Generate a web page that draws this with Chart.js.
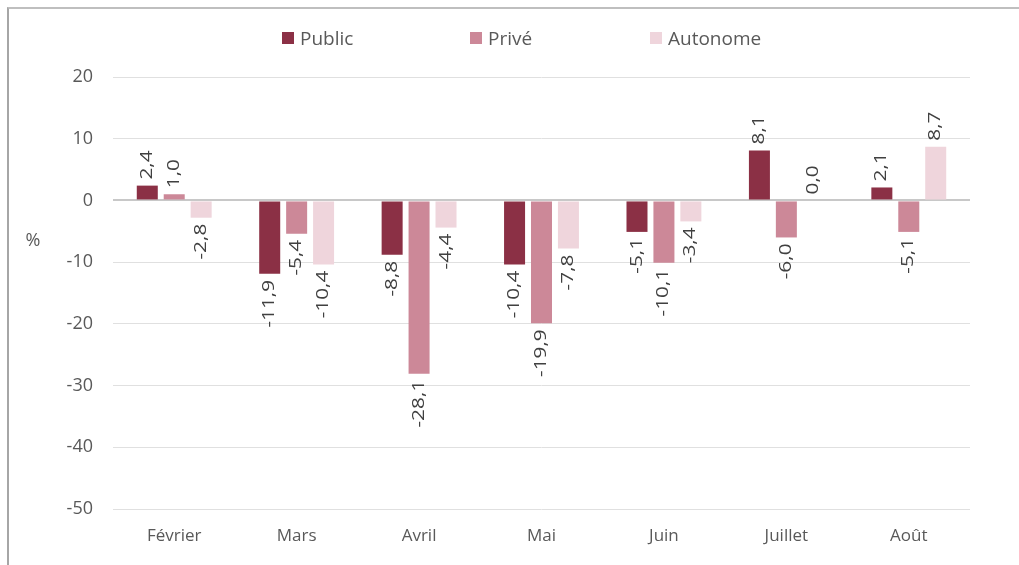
<!DOCTYPE html>
<html lang="fr">
<head>
<meta charset="utf-8">
<script src="https://cdn.jsdelivr.net/npm/chart.js@4"></script>
<style>
  html, body { margin: 0; padding: 0; background: #fff; overflow: hidden; }
  #wrap { position: relative; width: 1019px; height: 565px; overflow: hidden; }
  #frame { position: absolute; left: 7px; top: 7px; width: 1100px; height: 700px;
           border-left: 2px solid #a6a6a6; border-top: 2px solid #bfbfbf; }
  #legend { position: absolute; top: 25px; left: 282px;
            font-family: "Open Sans", sans-serif; font-size: 19px; color: #595959; }
  #legend .item { display: flex; align-items: center; position: absolute; white-space: nowrap; }
  #legend .box { width: 12px; height: 12px; margin-right: 6px; }
  canvas { position: absolute; left: 0; top: 0; }
</style>
</head>
<body>
<div id="wrap">
  <div id="frame"></div>
  <canvas id="chart" width="1019" height="565"></canvas>
  <div id="legend"></div>
</div>
<script>
// Data
const months = ['Février', 'Mars', 'Avril', 'Mai', 'Juin', 'Juillet', 'Août'];
const publicValues = [2.4, -11.9, -8.8, -10.4, -5.1, 8.1, 2.1];
const priveValues = [1.0, -5.4, -28.1, -19.9, -10.1, -6.0, -5.1];
const autonomeValues = [-2.8, -10.4, -4.4, -7.8, -3.4, 0.0, 8.7];
const yTicks = [20, 10, 0, -10, -20, -30, -40, -50];

const seriesNames = ['Public', 'Privé', 'Autonome'];
const seriesColors = ['#8b3045', '#cc8898', '#efd5dc'];
const textColor = '#595959';

// Legend spread out like the original
const legendEl = document.getElementById('legend');
const legendLeft = [0, 188, 368];
seriesNames.forEach((name, i) => {
    const item = document.createElement('div');
    item.className = 'item';
    item.style.left = legendLeft[i] + 'px';
    item.innerHTML = '<span class="box" style="background:' + seriesColors[i] + '"></span>' + name;
    legendEl.appendChild(item);
});

// Rotated value labels at the end of each bar
const valueLabels = {
    id: 'valueLabels',
    afterDatasetsDraw(chart) {
        const ctx = chart.ctx;
        ctx.save();
        ctx.fillStyle = '#404040';
        ctx.font = '16px "Open Sans", sans-serif';
        ctx.textBaseline = 'middle';
        chart.data.datasets.forEach((ds, di) => {
            chart.getDatasetMeta(di).data.forEach((bar, i) => {
                const v = ds.data[i];
                const txt = v.toFixed(1).replace('.', ',');
                ctx.save();
                if (v >= 0) {
                    ctx.translate(bar.x, bar.y - 6);
                    ctx.textAlign = 'left';
                } else {
                    ctx.translate(bar.x, bar.y + 6);
                    ctx.textAlign = 'right';
                }
                ctx.rotate(-Math.PI / 2);
                ctx.scale(1.3, 1);
                ctx.fillText(txt, 0, 0);
                ctx.restore();
            });
        });
        ctx.restore();
    }
};

// "%" axis unit, not rotated
const unitLabel = {
    id: 'unitLabel',
    afterDraw(chart) {
        const ctx = chart.ctx;
        ctx.save();
        ctx.fillStyle = textColor;
        ctx.font = '18px "Open Sans", sans-serif';
        ctx.textAlign = 'center';
        ctx.textBaseline = 'middle';
        ctx.fillText('%', 33, chart.scales.y.getPixelForValue(-6.5));
        ctx.restore();
    }
};

new Chart(document.getElementById('chart'), {
    type: 'bar',
    data: {
        labels: months,
        datasets: [
            { label: seriesNames[0], data: publicValues, backgroundColor: seriesColors[0] },
            { label: seriesNames[1], data: priveValues, backgroundColor: seriesColors[1] },
            { label: seriesNames[2], data: autonomeValues, backgroundColor: seriesColors[2] }
        ]
    },
    options: {
        responsive: false,
        animation: false,
        layout: { padding: { top: 77, right: 49, bottom: 6, left: 0 } },
        categoryPercentage: 0.66,
        barPercentage: 0.78,
        plugins: {
            legend: { display: false },
            tooltip: { enabled: false }
        },
        scales: {
            x: {
                grid: { display: false },
                border: { display: false },
                ticks: {
                    color: textColor,
                    font: { family: '"Open Sans", sans-serif', size: 17 },
                    padding: 9
                },
                afterFit(scale) { scale.height = 50; }
            },
            y: {
                min: -50,
                max: 20,
                afterBuildTicks(scale) {
                    scale.ticks = yTicks.map(v => ({ value: v }));
                },
                grid: {
                    drawTicks: false,
                    color: ctx => ctx.tick && ctx.tick.value === 0 ? '#c8c8c8' : '#e0e0e0',
                    lineWidth: ctx => ctx.tick && ctx.tick.value === 0 ? 2 : 1
                },
                border: { display: false },
                ticks: {
                    color: textColor,
                    font: { family: '"Open Sans", sans-serif', size: 18 },
                    padding: 20
                },
                afterFit(scale) { scale.width = 113; }
            }
        }
    },
    plugins: [valueLabels, unitLabel]
});
</script>
</body>
</html>
